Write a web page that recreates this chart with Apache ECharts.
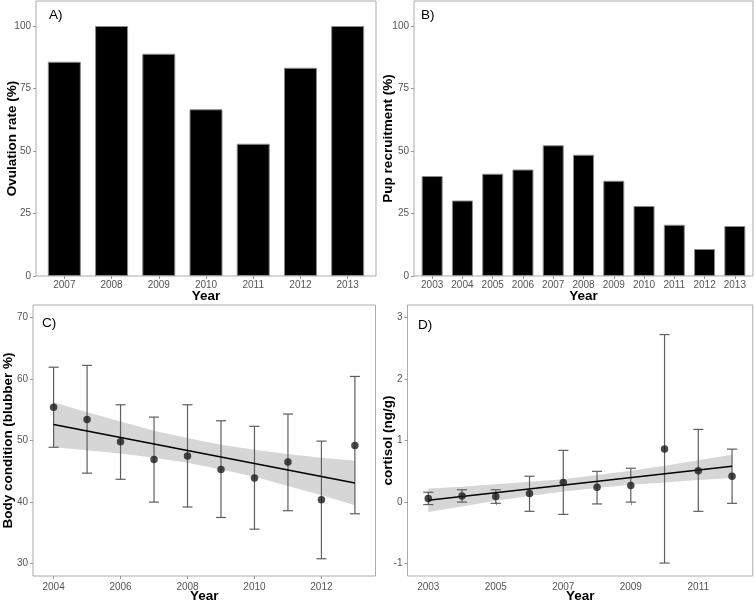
<!DOCTYPE html>
<html>
<head>
<meta charset="utf-8">
<script src="https://cdn.jsdelivr.net/npm/echarts@6/dist/echarts.min.js"></script>
<style>html,body{margin:0;padding:0;background:#fff}#c{width:755px;height:604px}</style>
</head>
<body>
<div id="c"></div>
<script>
// ---- Data ----
const yearsA = [2007, 2008, 2009, 2010, 2011, 2012, 2013];
const ovulation = [85.7, 100, 88.9, 66.7, 52.9, 83.3, 100];

const yearsB = [2003, 2004, 2005, 2006, 2007, 2008, 2009, 2010, 2011, 2012, 2013];
const pupRecruit = [40.0, 30.2, 40.9, 42.6, 52.3, 48.5, 38.1, 28.0, 20.5, 10.8, 20.0];

const yearsC = [2004, 2005, 2006, 2007, 2008, 2009, 2010, 2011, 2012, 2013];
const bodyMean = [55.4, 53.4, 49.8, 46.9, 47.5, 45.3, 43.9, 46.5, 40.4, 49.2];
const bodyLow  = [48.9, 44.7, 43.7, 40.0, 39.2, 37.5, 35.6, 38.6, 30.8, 38.1];
const bodyHigh = [61.9, 62.2, 55.8, 53.8, 55.8, 53.2, 52.3, 54.3, 49.9, 60.4];
const bodyFitYears = [2004, 2013];
const bodyFit = [52.6, 43.1];
const bodyBandLow  = [48.9, 48.4, 47.9, 47.2, 46.4, 45.3, 44.1, 42.6, 41.1, 39.5];
const bodyBandHigh = [56.2, 54.6, 53.1, 51.6, 50.4, 49.3, 48.5, 47.8, 47.2, 46.7];

const yearsD = [2003, 2004, 2005, 2006, 2007, 2008, 2009, 2010, 2011, 2012];
const cortMean = [0.06, 0.10, 0.09, 0.14, 0.32, 0.24, 0.27, 0.86, 0.51, 0.42];
const cortLow  = [-0.04, 0.00, -0.02, -0.15, -0.20, -0.03, 0.00, -0.99, -0.15, -0.02];
const cortHigh = [0.16, 0.20, 0.20, 0.42, 0.84, 0.50, 0.55, 2.72, 1.18, 0.86];
const cortFitYears = [2003, 2012];
const cortFit = [0.03, 0.58];
const cortBandLow  = [-0.16, -0.07, 0.02, 0.10, 0.17, 0.23, 0.28, 0.32, 0.36, 0.39];
const cortBandHigh = [0.22, 0.25, 0.29, 0.33, 0.37, 0.44, 0.51, 0.59, 0.68, 0.77];

const tickA = [0, 25, 50, 75, 100];
const tickC = [30, 40, 50, 60, 70];
const tickD = [-1, 0, 1, 2, 3];
const xTickC = [2004, 2006, 2008, 2010, 2012];
const xTickD = [2003, 2005, 2007, 2009, 2011];

// ---- Styling helpers ----
const FONT = '"Liberation Sans", Arial, sans-serif';
const tickColor = '#555555';
function xAxis(gi, min, max, ticks, gap, margin) {
  return {
    type: 'value', gridIndex: gi, min: min, max: max,
    name: 'Year', nameLocation: 'middle', nameGap: gap, nameMoveOverlap: false,
    nameTextStyle: {fontFamily: FONT, fontSize: 13.5, fontWeight: 'bold', color: '#000'},
    axisLine: {show: false},
    axisTick: {show: true, length: 3, customValues: ticks, lineStyle: {color: '#999'}},
    axisLabel: {customValues: ticks, margin: margin, fontFamily: FONT, fontSize: 10, color: tickColor,
      formatter: v => String(v)},
    splitLine: {show: false}
  };
}
function yAxis(gi, min, max, ticks, name, gap) {
  return {
    type: 'value', gridIndex: gi, min: min, max: max,
    name: name, nameLocation: 'middle', nameGap: gap, nameMoveOverlap: false,
    nameTextStyle: {fontFamily: FONT, fontSize: 13.5, fontWeight: 'bold', color: '#000'},
    axisLine: {show: false},
    axisTick: {show: true, length: 3, customValues: ticks, lineStyle: {color: '#999'}},
    axisLabel: {customValues: ticks, margin: 5, fontFamily: FONT, fontSize: 10, color: tickColor,
      formatter: v => String(v)},
    splitLine: {show: false}
  };
}
const gridStyle = {show: true, borderColor: '#ababab', borderWidth: 1, backgroundColor: '#fff'};

function bandSeries(idx, years, lo, hi) {
  return {
    type: 'custom', xAxisIndex: idx, yAxisIndex: idx, silent: true, z: 1,
    data: years.map((y, i) => [y, lo[i], hi[i]]),
    encode: {x: 0, y: [1, 2]},
    renderItem: function (params, api) {
      if (params.dataIndex !== 0) return null;
      const pts = [];
      for (let i = 0; i < years.length; i++) pts.push(api.coord([years[i], hi[i]]));
      for (let i = years.length - 1; i >= 0; i--) pts.push(api.coord([years[i], lo[i]]));
      return {type: 'polygon', shape: {points: pts}, style: {fill: '#d6d6d6'}};
    }
  };
}
function errSeries(idx, years, lo, hi) {
  return {
    type: 'custom', xAxisIndex: idx, yAxisIndex: idx, silent: true, z: 2,
    data: years.map((y, i) => [y, lo[i], hi[i]]),
    encode: {x: 0, y: [1, 2]},
    renderItem: function (params, api) {
      const x = api.value(0), l = api.value(1), h = api.value(2);
      const top = api.coord([x, h]), bot = api.coord([x, l]);
      const a = api.coord([x - 0.15, h]), b = api.coord([x + 0.15, h]);
      const hw = (b[0] - a[0]) / 2;
      const st = {stroke: '#5e5e5e', lineWidth: 1.2};
      return {type: 'group', children: [
        {type: 'line', shape: {x1: top[0], y1: top[1], x2: bot[0], y2: bot[1]}, style: st},
        {type: 'line', shape: {x1: top[0] - hw, y1: top[1], x2: top[0] + hw, y2: top[1]}, style: st},
        {type: 'line', shape: {x1: bot[0] - hw, y1: bot[1], x2: bot[0] + hw, y2: bot[1]}, style: st}
      ]};
    }
  };
}
function fitSeries(idx, xs, ys) {
  return {type: 'line', xAxisIndex: idx, yAxisIndex: idx, z: 3, silent: true,
    data: xs.map((x, i) => [x, ys[i]]), showSymbol: false,
    lineStyle: {color: '#000', width: 1.5}};
}
function pointSeries(idx, xs, ys) {
  return {type: 'scatter', xAxisIndex: idx, yAxisIndex: idx, z: 4, silent: true,
    data: xs.map((x, i) => [x, ys[i]]), symbolSize: 7.5,
    itemStyle: {color: '#1c1c1c'}};
}
function tag(text, x, y) {
  return {type: 'text', left: x, top: y, z: 10,
    style: {text: text, fontFamily: FONT, fontSize: 13.5, fill: '#000'}};
}

const option = {
  animation: false,
  backgroundColor: '#fff',
  grid: [
    Object.assign({left: 36, top: 1, width: 340, height: 275}, gridStyle),
    Object.assign({left: 414, top: 1, width: 339, height: 275}, gridStyle),
    Object.assign({left: 32, top: 305, width: 343.5, height: 275}, gridStyle),
    Object.assign({left: 407.5, top: 305, width: 345.3, height: 275}, gridStyle)
  ],
  xAxis: [
    xAxis(0, 2006.4, 2013.6, yearsA, 13, 4),
    xAxis(1, 2002.4, 2013.6, yearsB, 13, 4),
    xAxis(2, 2003.385, 2013.615, xTickC, 13, 6.5),
    xAxis(3, 2002.385, 2012.615, xTickD, 13, 6.5)
  ],
  yAxis: [
    yAxis(0, 0, 110, tickA, 'Ovulation rate (%)', 16.5),
    yAxis(1, 0, 110, tickA, 'Pup recruitment (%)', 18.5),
    yAxis(2, 28, 72, tickC, 'Body condition (blubber %)', 18),
    yAxis(3, -1.2, 3.2, tickD, 'cortisol (ng/g)', 12)
  ],
  graphic: [
    tag('A)', 49, 8),
    tag('B)', 421, 8),
    tag('C)', 42, 316),
    tag('D)', 418, 318)
  ],
  series: [
    {type: 'bar', xAxisIndex: 0, yAxisIndex: 0, barWidth: 33,
      data: yearsA.map((y, i) => [y, ovulation[i]]),
      itemStyle: {color: '#000', borderColor: '#8a8a8a', borderWidth: 1}},
    {type: 'bar', xAxisIndex: 1, yAxisIndex: 1, barWidth: 21,
      data: yearsB.map((y, i) => [y, pupRecruit[i]]),
      itemStyle: {color: '#000', borderColor: '#8a8a8a', borderWidth: 1}},
    bandSeries(2, yearsC, bodyBandLow, bodyBandHigh),
    errSeries(2, yearsC, bodyLow, bodyHigh),
    fitSeries(2, bodyFitYears, bodyFit),
    pointSeries(2, yearsC, bodyMean),
    bandSeries(3, yearsD, cortBandLow, cortBandHigh),
    errSeries(3, yearsD, cortLow, cortHigh),
    fitSeries(3, cortFitYears, cortFit),
    pointSeries(3, yearsD, cortMean)
  ]
};
const chart = echarts.init(document.getElementById('c'), null, {renderer: 'canvas'});
chart.setOption(option);
</script>
</body>
</html>
